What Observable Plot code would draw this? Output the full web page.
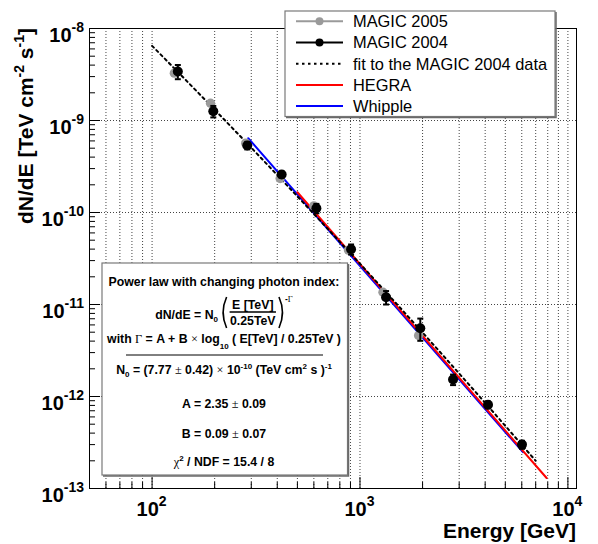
<!DOCTYPE html>
<html>
<head>
<meta charset="utf-8">
<script src="https://cdn.jsdelivr.net/npm/d3@7"></script>
<script src="https://cdn.jsdelivr.net/npm/@observablehq/plot@0.6"></script>
<style>
  html, body { margin: 0; padding: 0; background: #fff; }
  #chart { width: 598px; height: 544px; }
  text { white-space: pre; }
</style>
</head>
<body>
<div id="chart"></div>
<script>
// Crab Nebula differential spectrum, energies in GeV, flux in TeV^-1 cm^-2 s^-1
const magic2004Energy = [133, 197, 287, 420, 617, 906, 1335, 1950, 2803, 4129, 6015];
const magic2004Flux   = [3.41e-9, 1.26e-9, 5.35e-10, 2.59e-10, 1.11e-10, 3.99e-11, 1.20e-11, 5.53e-12, 1.53e-12, 8.12e-13, 3.0e-13];
const magic2004Err    = [0.6e-9, 0.18e-9, 0.5e-10, 0.2e-10, 0.13e-10, 0.5e-11, 0.2e-11, 1.5e-12, 0.2e-12, 0.7e-13, 0.3e-13];

const magic2005Energy = [128, 191, 282, 413, 600, 880, 1290, 1914];
const magic2005Flux   = [3.27e-9, 1.54e-9, 5.67e-10, 2.34e-10, 1.18e-10, 3.9e-11, 1.36e-11, 4.6e-12];

const hegraEnergy   = [500, 7900];
const hegraFlux     = [1.66e-10, 1.30e-13];
const whippleEnergy = [290, 6080];
const whippleFlux   = [6.42e-10, 2.48e-13];

// Fit parameters (power law with changing photon index, pivot 0.25 TeV)
const fitN0 = 7.77e-10, fitA = 2.35, fitB = 0.09, fitPivot = 250;
const fitSampleEnergy = [100, 120, 150, 180, 220, 270, 330, 400, 500, 600, 750, 900, 1100, 1350,
                         1650, 2000, 2500, 3000, 3700, 4500, 5500, 7000];

// Axis ticks and labels
const xMajorTicks = [100, 1000, 10000];
const xMajorExp   = ["2", "3", "4"];
const xMinorTicks = [60, 70, 80, 90, 200, 300, 400, 500, 600, 700, 800, 900,
                     2000, 3000, 4000, 5000, 6000, 7000, 8000, 9000];
const yMajorTicks = [1e-13, 1e-12, 1e-11, 1e-10, 1e-9, 1e-8];
const yMajorExp   = ["-13", "-12", "-11", "-10", "-9", "-8"];
const yMinorMult  = [2, 3, 4, 5, 6, 7, 8, 9];
const yGridLines  = [1e-12, 1e-11, 1e-10, 1e-9];

const legendLabels = ["MAGIC 2005", "MAGIC 2004", "fit to the MAGIC 2004 data", "HEGRA", "Whipple"];

const W = 598, H = 544, mL = 89, mR = 22, mT = 28, mB = 56;
const frameW = W - mL - mR, frameH = H - mT - mB;
const FONT = "'Liberation Sans', Arial, Helvetica, sans-serif";
const SERIF = "'Liberation Serif', 'Times New Roman', serif";
const GRAY = "#9a9a9a";

const m2004 = magic2004Energy.map((e, i) => ({E: e, F: magic2004Flux[i], err: magic2004Err[i]}));
const m2005 = magic2005Energy.map((e, i) => ({E: e, F: magic2005Flux[i]}));
const hegra = hegraEnergy.map((e, i) => ({E: e, F: hegraFlux[i]}));
const whipple = whippleEnergy.map((e, i) => ({E: e, F: whippleFlux[i]}));
const fit = fitSampleEnergy.map(e => {
  const lx = Math.log10(e / fitPivot);
  return {E: e, F: fitN0 * Math.pow(e / fitPivot, -(fitA + fitB * lx))};
});
const yMinorTicks = yMajorTicks.slice(0, -1).flatMap(d => yMinorMult.map(m => m * d));
const xGrid = xMinorTicks.concat(xMajorTicks);

const capSymbol = {draw(ctx) { ctx.moveTo(-3, 0); ctx.lineTo(3, 0); }};

const chart = Plot.plot({
  width: W, height: H,
  marginLeft: mL, marginRight: mR, marginTop: mT, marginBottom: mB,
  style: {fontFamily: FONT, background: "#fff"},
  x: {type: "log", domain: [50, 11000], axis: null},
  y: {type: "log", domain: [1e-13, 1e-8], axis: null},
  marks: [
    // dotted grid
    Plot.ruleX(xGrid, {x: d => d, stroke: "#444", strokeWidth: 1, strokeDasharray: "1,2"}),
    Plot.ruleY(yGridLines, {y: d => d, stroke: "#444", strokeWidth: 1, strokeDasharray: "1,2"}),
    // inward ticks
    Plot.ruleX(xMajorTicks, {x: d => d, insetTop: frameH - 11, stroke: "#000"}),
    Plot.ruleX(xMinorTicks, {x: d => d, insetTop: frameH - 6, stroke: "#000"}),
    Plot.ruleY(yMajorTicks, {y: d => d, insetRight: frameW - 11, stroke: "#000"}),
    Plot.ruleY(yMinorTicks, {y: d => d, insetRight: frameW - 6, stroke: "#000"}),
    // reference spectra and fit
    Plot.line(whipple, {x: "E", y: "F", stroke: "#0000ff", strokeWidth: 2}),
    Plot.line(hegra, {x: "E", y: "F", stroke: "#ff0000", strokeWidth: 2}),
    Plot.line(fit, {x: "E", y: "F", stroke: "#000", strokeWidth: 2, strokeDasharray: "2.5,3.5"}),
    // MAGIC 2005
    Plot.dot(m2005, {x: "E", y: "F", r: 4.7, fill: GRAY, stroke: "none"}),
    // MAGIC 2004 with error bars
    Plot.ruleX(m2004, {x: "E", y1: d => d.F - d.err, y2: d => d.F + d.err, stroke: "#000", strokeWidth: 2}),
    Plot.dot(m2004, {x: "E", y: d => d.F + d.err, symbol: capSymbol, r: 3, fill: "none", stroke: "#000", strokeWidth: 2}),
    Plot.dot(m2004, {x: "E", y: d => d.F - d.err, symbol: capSymbol, r: 3, fill: "none", stroke: "#000", strokeWidth: 2}),
    Plot.dot(m2004, {x: "E", y: "F", r: 5, fill: "#000", stroke: "none"}),
    Plot.frame({stroke: "#000", strokeWidth: 1})
  ]
});
document.getElementById("chart").appendChild(chart);

const svg = d3.select(chart);
const xs = chart.scale("x"), ys = chart.scale("y");

// rich text with super/subscripts
function rich(parent, x, y, anchor, parts, size, weight = "bold") {
  const t = parent.append("text").attr("x", x).attr("y", y).attr("text-anchor", anchor)
    .attr("font-family", FONT).attr("font-weight", weight).attr("font-size", size).attr("fill", "#000");
  let shift = 0;
  for (const p of parts) {
    const target = p.sup ? -(p.rise ?? size * 0.45) : p.sub ? (p.drop ?? size * 0.3) : 0;
    const sp = t.append("tspan").attr("dy", target - shift).text(p.t);
    shift = target;
    if (p.sup || p.sub) sp.attr("font-size", p.size ?? size * 0.65);
    if (p.serif) sp.attr("font-family", SERIF).attr("font-weight", "normal");
  }
  return t;
}

// tick labels
const labels = svg.append("g");
xMajorTicks.forEach((v, i) => {
  rich(labels, xs.apply(v), 516, "middle", [{t: "10"}, {t: xMajorExp[i], sup: true, rise: 10, size: 14}], 20);
});
yMajorTicks.forEach((v, i) => {
  rich(labels, 84, ys.apply(v) + 14, "end", [{t: "10"}, {t: yMajorExp[i], sup: true, rise: 10, size: 14}], 20);
});

// axis titles
rich(labels, W - mR, 538, "end", [{t: "Energy [GeV]"}], 21);
const yTitle = labels.append("g").attr("transform", `translate(33,${mT}) rotate(-90)`);
rich(yTitle, 0, 0, "end", [
  {t: "dN/dE [TeV cm"}, {t: "-2", sup: true, rise: 9, size: 14}, {t: " s"},
  {t: "-1", sup: true, rise: 9, size: 14}, {t: "]"}
], 21);

// legend
const leg = svg.append("g");
const LX = 285, LY = 11, LW = 270, LH = 105.5;
leg.append("rect").attr("x", LX).attr("y", LY).attr("width", LW).attr("height", LH)
  .attr("fill", "#fff").attr("stroke", "#7a7a7a").attr("stroke-width", 1.2);
leg.append("path").attr("d", `M${LX + 1},${LY + LH + 1}H${LX + LW + 1}V${LY + 1}`)
  .attr("fill", "none").attr("stroke", "#6a6a6a").attr("stroke-width", 1.5);
const legStyles = [
  {stroke: GRAY, dot: GRAY}, {stroke: "#000", dot: "#000"},
  {stroke: "#000", dash: "2.5,3.5"}, {stroke: "#ff0000"}, {stroke: "#0000ff"}
];
legendLabels.forEach((lab, i) => {
  const cy = 21.3 + i * 21.2, s = legStyles[i];
  const ln = leg.append("line").attr("x1", 296).attr("x2", 343).attr("y1", cy).attr("y2", cy)
    .attr("stroke", s.stroke).attr("stroke-width", 2);
  if (s.dash) ln.attr("stroke-dasharray", s.dash);
  if (s.dot) leg.append("circle").attr("cx", 319.5).attr("cy", cy).attr("r", 4).attr("fill", s.dot);
  rich(leg, 353, cy + 5.9, "start", [{t: lab}], 16.4, "normal");
});

// fit result box
const box = svg.append("g");
const BX = 102, BY = 263, BW = 245.5, BH = 212, BC = 224, FS = 12.3;
box.append("rect").attr("x", BX).attr("y", BY).attr("width", BW).attr("height", BH)
  .attr("fill", "#fff").attr("stroke", "#7a7a7a").attr("stroke-width", 1.2);
box.append("path").attr("d", `M${BX + 1},${BY + BH + 1}H${BX + BW + 1}V${BY + 1}`)
  .attr("fill", "none").attr("stroke", "#6a6a6a").attr("stroke-width", 1.5);

rich(box, BC, 286, "middle", [{t: "Power law with changing photon index:"}], FS);

// dN/dE = N0 (E[TeV]/0.25TeV)^-Γ
const g2 = box.append("g");
const lhs = rich(g2, 0, 319, "start", [{t: "dN/dE = N"}, {t: "0", sub: true, drop: 3, size: 8}], FS);
let cx = lhs.node().getBBox().width + 3;
g2.append("path").attr("d", `M${cx + 5},297 Q${cx - 2},312.5 ${cx + 5},328`)
  .attr("fill", "none").attr("stroke", "#000").attr("stroke-width", 1.6);
cx += 8;
const num = rich(g2, 0, 308.5, "middle", [{t: "E [TeV]"}], FS);
const den = rich(g2, 0, 325, "middle", [{t: "0.25TeV"}], FS);
const fw = Math.max(num.node().getBBox().width, den.node().getBBox().width);
num.attr("x", cx + fw / 2); den.attr("x", cx + fw / 2);
g2.append("line").attr("x1", cx).attr("x2", cx + fw).attr("y1", 312).attr("y2", 312)
  .attr("stroke", "#000").attr("stroke-width", 1.4);
cx += fw + 3;
g2.append("path").attr("d", `M${cx},297 Q${cx + 7},312.5 ${cx},328`)
  .attr("fill", "none").attr("stroke", "#000").attr("stroke-width", 1.6);
cx += 6;
const ex = rich(g2, cx, 302, "start", [{t: "-"}, {t: "Γ", serif: true}], 8.5);
cx += ex.node().getBBox().width;
g2.attr("transform", `translate(${BC - cx / 2},0)`);

rich(box, BC, 342.5, "middle", [
  {t: "with "}, {t: "Γ", serif: true}, {t: " = A + B "}, {t: "×", serif: true},
  {t: " log"}, {t: "10", sub: true, drop: 6, size: 8}, {t: " ( E[TeV] / 0.25TeV )"}
], FS);
box.append("line").attr("x1", 126).attr("x2", 323).attr("y1", 355).attr("y2", 355)
  .attr("stroke", "#000").attr("stroke-width", 1);
rich(box, BC, 374, "middle", [
  {t: "N"}, {t: "0", sub: true, drop: 3, size: 8}, {t: " = (7.77 "}, {t: "±", serif: true},
  {t: " 0.42) "}, {t: "×", serif: true}, {t: " 10"}, {t: "-10", sup: true, rise: 5, size: 8},
  {t: " (TeV cm"}, {t: "2", sup: true, rise: 5, size: 8}, {t: " s )"}, {t: "-1", sup: true, rise: 5, size: 8}
], FS);
rich(box, BC, 407.5, "middle", [{t: "A = 2.35 "}, {t: "±", serif: true}, {t: " 0.09"}], FS);
rich(box, BC, 437.5, "middle", [{t: "B = 0.09 "}, {t: "±", serif: true}, {t: " 0.07"}], FS);
rich(box, BC, 466, "middle", [
  {t: "χ", serif: true}, {t: "2", sup: true, rise: 5, size: 8}, {t: " / NDF = 15.4 / 8"}
], FS);
</script>
</body>
</html>
